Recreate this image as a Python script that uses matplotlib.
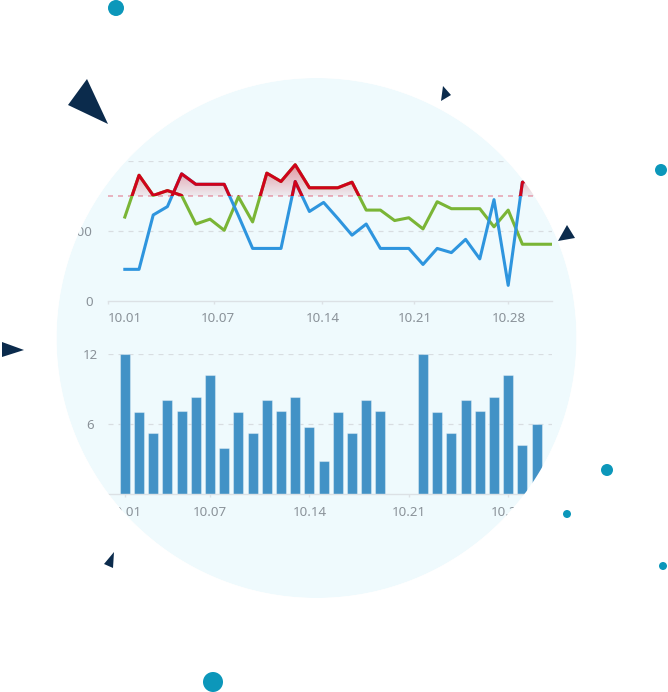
import numpy as np
import matplotlib
matplotlib.use("Agg")
import matplotlib.pyplot as plt
from matplotlib.path import Path
from matplotlib.patches import PathPatch, Circle, Polygon, Rectangle

plt.rcParams['font.family'] = ['Noto Sans', 'DejaVu Sans']

# ---------------- data ----------------
dates = ['10.%02d' % d for d in range(1, 32)]
blue_vals = [45, 45, 123, 135, 182, 167, 167, 167, 122, 75, 75, 75, 171, 128, 141, 118,
             94, 110, 75, 75, 75, 52, 75, 69, 88, 60, 145, 22, 170, 175, 165]
green_vals = [120, 180, 151, 158, 151, 110, 117, 101, 149, 113, 183, 171, 195, 162, 162, 162,
              170, 130, 130, 115, 119, 103, 142, 132, 132, 132, 106, 130, 81, 81, 81]
threshold = 150
top_yticks = [0, 100, 200]
top_ylabels = ['0', '100', '200']
bar_vals = [12, 7, 5.2, 8, 7.1, 8.3, 10.2, 3.9, 7, 5.2, 8, 7.1, 8.3, 5.7, 2.8, 7, 5.2, 8, 7.1,
            0, 0, 12, 7, 5.2, 8, 7.1, 8.3, 10.2, 4.2, 6, 0]
bot_yticks = [6, 12]
bot_ylabels = ['6', '12']
xlabel_dates = ['10.01', '10.07', '10.14', '10.21', '10.28']

# ---------------- style ----------------
W, H = 668, 692
CX, CY, R = 316.5, 338, 260
BG_CIRCLE = '#EFFAFD'
BLUE = '#2E95DE'
GREEN = '#7AB536'
RED = '#D0021B'
BAR = '#4292C6'
AXIS = '#DCE1E5'
GRID = '#D8DDE1'
LABEL = '#8A9299'
NAVY = '#0B2B4C'
TEAL = '#0C97BA'
FS = 9.6

fig = plt.figure(figsize=(W / 100, H / 100), dpi=100)
fig.patch.set_facecolor('white')


def box(l, t, r, b):
    return [l / W, 1 - b / H, (r - l) / W, (b - t) / H]


bg = fig.add_axes([0, 0, 1, 1], zorder=0)
bg.set_xlim(0, W)
bg.set_ylim(H, 0)
bg.axis('off')
bg.add_patch(Circle((CX, CY), R, color=BG_CIRCLE, lw=0))

x = np.arange(len(dates))
blue = np.array(blue_vals, float)
green = np.array(green_vals, float)
XLIM = (-1.22, 30.05)

# ---------------- top chart ----------------
ax1 = fig.add_axes(box(107.5, 161.3, 551.5, 300.7), zorder=1)
ax1.patch.set_alpha(0)
ax1.set_xlim(*XLIM)
ax1.set_ylim(0, 200)
for s in ['top', 'right', 'left']:
    ax1.spines[s].set_visible(False)
ax1.spines['bottom'].set_color(AXIS)
ax1.spines['bottom'].set_linewidth(1)

for v in top_yticks[1:]:
    ax1.axhline(v, color=GRID, ls=(0, (4, 4)), lw=0.9, zorder=0.5)
ax1.axhline(threshold, color='#E7A6B6', ls=(0, (3, 3)), lw=1.2, zorder=0.6)

# gradient fill above the threshold
xs = np.linspace(0, len(dates) - 1, 3000)
env = np.maximum(np.interp(xs, x, blue), np.interp(xs, x, green))
fb = ax1.fill_between(xs, env, threshold, where=env > threshold, interpolate=True,
                      alpha=0, lw=0)
paths = [p for p in fb.get_paths() if len(p.vertices) > 2]
if paths:
    clip = Path.make_compound_path(*paths)
    grad = np.zeros((256, 1, 4))
    grad[..., 0], grad[..., 1], grad[..., 2] = 0.816, 0.008, 0.106
    grad[:, 0, 3] = np.linspace(0.06, 0.42, 256)
    im = ax1.imshow(grad, extent=(XLIM[0], XLIM[1], threshold, 196), origin='lower',
                    aspect='auto', zorder=1.5, interpolation='bilinear')
    im.set_clip_path(clip, transform=ax1.transData)
ax1.set_xlim(*XLIM)
ax1.set_ylim(0, 200)

ax1.plot(x, green, color=GREEN, lw=2.2, zorder=3)
ax1.plot(x, blue, color=BLUE, lw=2.2, zorder=3.1)
for s in (green, blue):
    ln, = ax1.plot(x, s, color=RED, lw=2.2, zorder=4)
    ln.set_clip_path(Rectangle((-5, threshold), 50, 200, transform=ax1.transData))

ax1.set_xticks([-1.22, 6.3, 13.9, 20.4, 27.0])
ax1.set_xticks([0, 6.56, 13.98, 20.46, 27.08], xlabel_dates, minor=True)
ax1.tick_params(axis='x', which='major', length=2.5, width=1, color=AXIS, labelbottom=False)
ax1.tick_params(axis='x', which='minor', length=0, pad=8.4, labelsize=FS, labelcolor=LABEL)
ax1.set_yticks(top_yticks, top_ylabels)
ax1.tick_params(axis='y', length=0, pad=10.4, labelsize=FS, labelcolor=LABEL)

# ---------------- bottom chart ----------------
ax2 = fig.add_axes(box(107.5, 353.7, 551.5, 494), zorder=1)
ax2.patch.set_alpha(0)
ax2.set_xlim(*XLIM)
ax2.set_ylim(0, 12)
for s in ['top', 'right', 'left']:
    ax2.spines[s].set_visible(False)
ax2.spines['bottom'].set_color(AXIS)
ax2.spines['bottom'].set_linewidth(1)
for v in bot_yticks:
    ax2.axhline(v, color=GRID, ls=(0, (4, 4)), lw=0.9, zorder=0.5)
bv = np.array(bar_vals, float)
ok = bv > 0
ax2.bar(x[ok], bv[ok], width=0.70, color=BAR, edgecolor=(1, 1, 1, 0.35), lw=0.8, zorder=2)
ax2.set_xticks([0, 6, 13, 20, 27], xlabel_dates)
ax2.tick_params(axis='x', length=2.5, width=1, color=AXIS, pad=6, labelsize=FS,
                labelcolor=LABEL)
ax2.set_yticks(bot_yticks, bot_ylabels)
ax2.tick_params(axis='y', length=0, pad=12.6, labelsize=FS, labelcolor=LABEL)
for t in ax2.get_yticklabels():
    t.set_horizontalalignment('center')

# ---------------- mask outside the circle + decorations ----------------
ov = fig.add_axes([0, 0, 1, 1], zorder=10)
ov.set_xlim(0, W)
ov.set_ylim(H, 0)
ov.axis('off')
ov.patch.set_alpha(0)
outer = [(-5, -5), (W + 5, -5), (W + 5, H + 5), (-5, H + 5), (-5, -5)]
th = np.linspace(0, -2 * np.pi, 400)
inner = list(zip(CX + R * np.cos(th), CY + R * np.sin(th)))
verts = outer + inner + [inner[0]]
codes = ([Path.MOVETO] + [Path.LINETO] * 3 + [Path.CLOSEPOLY] +
         [Path.MOVETO] + [Path.LINETO] * (len(inner) - 1) + [Path.CLOSEPOLY])
ov.add_patch(PathPatch(Path(verts, codes), facecolor='white', edgecolor='none', zorder=1))

tris = [
    [(87, 79), (68, 105), (108, 124)],
    [(443, 86), (441, 101), (451, 95)],
    [(567, 225), (558, 241), (575, 238)],
    [(2, 342), (24, 350), (2, 357)],
    [(114, 552), (104, 564), (113, 568)],
]
for t in tris:
    ov.add_patch(Polygon(t, closed=True, facecolor=NAVY, edgecolor='none', zorder=2))
dots = [(116, 8, 8), (661, 170, 6), (607, 470, 6), (567, 514, 4), (663, 566, 4), (213, 682, 10)]
for cx, cy, r in dots:
    ov.add_patch(Circle((cx, cy), r, facecolor=TEAL, edgecolor='none', zorder=2))

fig.savefig('out.png', dpi=100, facecolor='white')
